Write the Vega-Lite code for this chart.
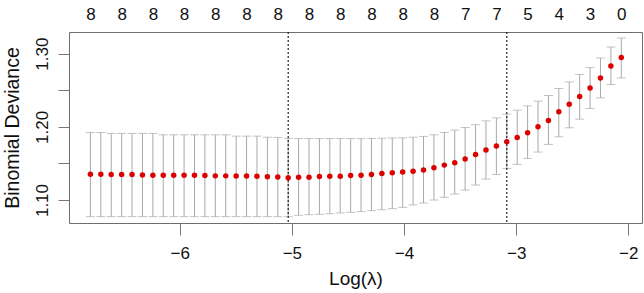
{
  "$schema": "https://vega.github.io/schema/vega-lite/v6.json",
  "width": 573,
  "height": 191,
  "autosize": {"type": "none"},
  "padding": {"left": 69, "top": 32, "right": 2, "bottom": 70},
  "background": "white",
  "config": {
    "font": "Liberation Sans",
    "view": {"stroke": "#6e6e6e", "strokeWidth": 1},
    "axis": {"grid": false, "domain": false, "labelColor": "#111", "titleColor": "#111", "tickColor": "#777", "labelFont": "Liberation Sans", "titleFont": "Liberation Sans", "titleFontWeight": "normal"}
  },
  "datasets": {
    "cv": [
      {"loglambda": -6.7966, "mean": 1.1352, "lower": 1.0773, "upper": 1.1923},
      {"loglambda": -6.7038, "mean": 1.1352, "lower": 1.0773, "upper": 1.1923},
      {"loglambda": -6.6109, "mean": 1.1350, "lower": 1.0773, "upper": 1.1910},
      {"loglambda": -6.5181, "mean": 1.1350, "lower": 1.0773, "upper": 1.1910},
      {"loglambda": -6.4253, "mean": 1.1348, "lower": 1.0773, "upper": 1.1910},
      {"loglambda": -6.3325, "mean": 1.1342, "lower": 1.0773, "upper": 1.1910},
      {"loglambda": -6.2396, "mean": 1.1340, "lower": 1.0773, "upper": 1.1910},
      {"loglambda": -6.1468, "mean": 1.1340, "lower": 1.0773, "upper": 1.1891},
      {"loglambda": -6.0540, "mean": 1.1338, "lower": 1.0773, "upper": 1.1891},
      {"loglambda": -5.9612, "mean": 1.1338, "lower": 1.0773, "upper": 1.1891},
      {"loglambda": -5.8683, "mean": 1.1338, "lower": 1.0773, "upper": 1.1891},
      {"loglambda": -5.7755, "mean": 1.1336, "lower": 1.0773, "upper": 1.1891},
      {"loglambda": -5.6827, "mean": 1.1330, "lower": 1.0773, "upper": 1.1891},
      {"loglambda": -5.5898, "mean": 1.1330, "lower": 1.0773, "upper": 1.1891},
      {"loglambda": -5.4970, "mean": 1.1328, "lower": 1.0773, "upper": 1.1873},
      {"loglambda": -5.4042, "mean": 1.1327, "lower": 1.0773, "upper": 1.1873},
      {"loglambda": -5.3114, "mean": 1.1325, "lower": 1.0773, "upper": 1.1873},
      {"loglambda": -5.2185, "mean": 1.1318, "lower": 1.0773, "upper": 1.1858},
      {"loglambda": -5.1257, "mean": 1.1316, "lower": 1.0773, "upper": 1.1855},
      {"loglambda": -5.0329, "mean": 1.1305, "lower": 1.0772, "upper": 1.1842},
      {"loglambda": -4.9401, "mean": 1.1310, "lower": 1.0791, "upper": 1.1840},
      {"loglambda": -4.8472, "mean": 1.1311, "lower": 1.0800, "upper": 1.1840},
      {"loglambda": -4.7544, "mean": 1.1322, "lower": 1.0805, "upper": 1.1840},
      {"loglambda": -4.6616, "mean": 1.1326, "lower": 1.0813, "upper": 1.1840},
      {"loglambda": -4.5688, "mean": 1.1324, "lower": 1.0823, "upper": 1.1840},
      {"loglambda": -4.4759, "mean": 1.1336, "lower": 1.0832, "upper": 1.1840},
      {"loglambda": -4.3831, "mean": 1.1338, "lower": 1.0841, "upper": 1.1838},
      {"loglambda": -4.2903, "mean": 1.1350, "lower": 1.0855, "upper": 1.1842},
      {"loglambda": -4.1974, "mean": 1.1363, "lower": 1.0868, "upper": 1.1845},
      {"loglambda": -4.1046, "mean": 1.1373, "lower": 1.0882, "upper": 1.1848},
      {"loglambda": -4.0118, "mean": 1.1382, "lower": 1.0900, "upper": 1.1850},
      {"loglambda": -3.9190, "mean": 1.1392, "lower": 1.0932, "upper": 1.1858},
      {"loglambda": -3.8261, "mean": 1.1409, "lower": 1.0959, "upper": 1.1869},
      {"loglambda": -3.7333, "mean": 1.1441, "lower": 1.1000, "upper": 1.1891},
      {"loglambda": -3.6405, "mean": 1.1477, "lower": 1.1037, "upper": 1.1923},
      {"loglambda": -3.5477, "mean": 1.1509, "lower": 1.1082, "upper": 1.1955},
      {"loglambda": -3.4548, "mean": 1.1559, "lower": 1.1136, "upper": 1.1991},
      {"loglambda": -3.3620, "mean": 1.1623, "lower": 1.1205, "upper": 1.2030},
      {"loglambda": -3.2692, "mean": 1.1682, "lower": 1.1286, "upper": 1.2082},
      {"loglambda": -3.1763, "mean": 1.1737, "lower": 1.1350, "upper": 1.2123},
      {"loglambda": -3.0835, "mean": 1.1796, "lower": 1.1432, "upper": 1.2173},
      {"loglambda": -2.9907, "mean": 1.1855, "lower": 1.1487, "upper": 1.2228},
      {"loglambda": -2.8979, "mean": 1.1918, "lower": 1.1569, "upper": 1.2287},
      {"loglambda": -2.8050, "mean": 1.2000, "lower": 1.1655, "upper": 1.2351},
      {"loglambda": -2.7122, "mean": 1.2087, "lower": 1.1760, "upper": 1.2428},
      {"loglambda": -2.6194, "mean": 1.2205, "lower": 1.1864, "upper": 1.2524},
      {"loglambda": -2.5266, "mean": 1.2310, "lower": 1.1987, "upper": 1.2614},
      {"loglambda": -2.4337, "mean": 1.2414, "lower": 1.2105, "upper": 1.2715},
      {"loglambda": -2.3409, "mean": 1.2532, "lower": 1.2251, "upper": 1.2810},
      {"loglambda": -2.2481, "mean": 1.2668, "lower": 1.2396, "upper": 1.2941},
      {"loglambda": -2.1552, "mean": 1.2832, "lower": 1.2578, "upper": 1.3091},
      {"loglambda": -2.0624, "mean": 1.2946, "lower": 1.2668, "upper": 1.3214}
    ],
    "refs": [
      {"loglambda": -5.0329, "which": "lambda.min"},
      {"loglambda": -3.0835, "which": "lambda.1se"}
    ]
  },
  "resolve": {"axis": {"x": "independent", "y": "independent"}},
  "layer": [
    {
      "data": {"name": "cv"},
      "mark": {"type": "errorbar", "color": "#a9a9a9", "thickness": 1, "ticks": {"size": 9, "color": "#a9a9a9"}, "clip": true},
      "encoding": {
        "x": {"field": "loglambda", "type": "quantitative",
              "scale": {"domain": [-6.9875, -1.8778], "nice": false, "zero": false},
              "axis": {"orient": "bottom", "values": [-6, -5, -4, -3, -2], "title": "Log(λ)", "tickSize": 12, "labelPadding": 10, "labelFontSize": 17, "titleFontSize": 19, "titleBaseline": "alphabetic", "titleY": 61, "labelFlush": false, "labelOverlap": false}},
        "y": {"field": "lower", "type": "quantitative",
              "scale": {"domain": [1.0686, 1.3296], "nice": false, "zero": false},
              "axis": {"orient": "left", "values": [1.10, 1.15, 1.20, 1.25, 1.30], "labelExpr": "round(datum.value * 100) % 10 == 0 ? format(datum.value, '.2f') : ''", "title": "Binomial Deviance", "tickSize": 11, "labelPadding": 11, "labelAngle": -90, "labelAlign": "center", "labelBaseline": "alphabetic", "labelFontSize": 17, "titleFontSize": 19.5, "titleBaseline": "alphabetic", "titleAngle": -90, "titleX": -51, "titleY": 95.5, "labelOverlap": false, "labelFlush": false}},
        "y2": {"field": "upper"}
      }
    },
    {
      "data": {"name": "refs"},
      "mark": {"type": "rule", "color": "#111", "strokeDash": [2, 2], "strokeWidth": 1.1},
      "encoding": {
        "x": {"field": "loglambda", "type": "quantitative", "axis": null}
      }
    },
    {
      "data": {"name": "cv"},
      "mark": {"type": "circle", "color": "#dd0000", "opacity": 1, "size": 30},
      "encoding": {
        "x": {"field": "loglambda", "type": "quantitative",
              "axis": {"orient": "top", "values": [-6.7966, -6.5181, -6.2396, -5.9612, -5.6827, -5.4042, -5.1257, -4.8472, -4.5688, -4.2903, -4.0118, -3.7333, -3.4548, -3.1763, -2.8979, -2.6194, -2.3409, -2.0624], "labelExpr": "datum.value < -3.6 ? '8' : datum.value < -3.0 ? '7' : datum.value < -2.75 ? '5' : datum.value < -2.5 ? '4' : datum.value < -2.2 ? '3' : '0'", "title": null, "ticks": false, "tickSize": 0, "labelPadding": 13, "labelBaseline": "alphabetic", "labelFontSize": 17, "labelFlush": false, "labelOverlap": false}},
        "y": {"field": "mean", "type": "quantitative", "axis": null}
      }
    }
  ]
}
